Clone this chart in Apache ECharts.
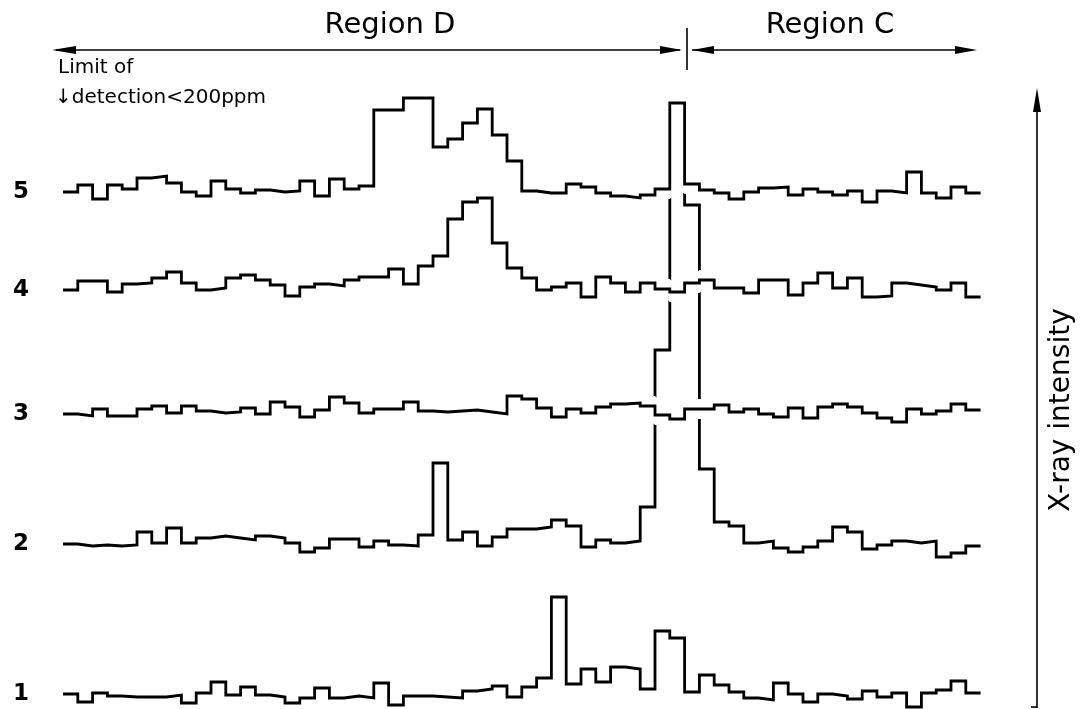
<!DOCTYPE html>
<html>
<head>
<meta charset="utf-8">
<script src="https://cdn.jsdelivr.net/npm/echarts@6/dist/echarts.min.js"></script>
<style>
  html, body { margin: 0; padding: 0; background: #fff; }
  #chart { width: 1089px; height: 709px; }
</style>
</head>
<body>
<div id="chart"></div>
<script>
// 62 scan steps along the line, intensity read per step (arbitrary units above each trace's own baseline)
const binCount = 62
const trace1 = [16, 8, 17, 14, 13, 13, 13, 15, 7, 17, 28, 15, 23, 15, 13, 7, 12, 22, 12, 14, 12, 27, 5, 14, 14, 13, 12, 19, 21, 24, 13, 23, 32, 113, 26, 41, 28, 43, 41, 21, 79, 72, 18, 35, 25, 18, 12, 10, 27, 16, 8, 16, 14, 11, 19, 13, 17, 3, 17, 20, 29, 17]
const trace2 = [16, 14, 15, 14, 15, 28, 17, 32, 17, 22, 24, 22, 20, 24, 22, 17, 8, 12, 21, 21, 13, 19, 15, 14, 25, 97, 20, 28, 14, 23, 31, 31, 33, 40, 34, 13, 20, 17, 19, 53, 210, 457, 355, 91, 38, 34, 17, 19, 12, 8, 13, 19, 33, 28, 11, 15, 19, 17, 19, 3, 7, 14]
const trace3 = [11, 9, 16, 9, 9, 16, 19, 12, 19, 14, 12, 13, 17, 11, 23, 18, 8, 15, 28, 22, 12, 16, 16, 23, 14, 13, 14, 15, 13, 11, 29, 26, 17, 8, 16, 12, 18, 21, 22, 19, 10, 6, 16, 16, 20, 13, 16, 11, 8, 17, 7, 18, 21, 18, 12, 7, 3, 16, 11, 14, 21, 15]
const trace4 = [10, 19, 19, 8, 16, 17, 22, 28, 17, 10, 12, 22, 25, 20, 15, 4, 13, 16, 14, 20, 23, 23, 31, 16, 34, 44, 81, 98, 102, 57, 32, 22, 10, 13, 17, 3, 23, 17, 8, 17, 11, 8, 17, 20, 12, 12, 7, 20, 20, 5, 17, 27, 12, 22, 3, 4, 17, 15, 13, 10, 17, 3]
const trace5 = [13, 20, 6, 20, 16, 27, 29, 22, 13, 9, 24, 16, 12, 15, 13, 14, 24, 9, 26, 16, 19, 95, 95, 107, 107, 58, 66, 82, 96, 70, 44, 14, 12, 12, 21, 18, 12, 9, 7, 10, 16, 102, 21, 15, 12, 6, 13, 17, 18, 10, 16, 13, 10, 14, 3, 14, 12, 33, 12, 7, 18, 12]
const traceNames = ['1', '2', '3', '4', '5']
const traceOffsets = [-1, 149, 284, 409, 504] // where each trace sits on the stacked intensity axis
const regionLabels = ['Region D', 'Region C']
const axisTitle = 'X-ray intensity'
const noteLines = ['Limit of', '\u2193detection<200ppm']

const traces = [trace1, trace2, trace3, trace4, trace5]

// histogram steps: one point per step edge, last value repeated at the end
const toSteps = (values, offset, name) => {
  const pts = values.map((v, i) => {
    const item = { value: [i, offset + v] }
    if (i === 0 && name) {
      item.label = {
        show: true,
        position: 'left',
        distance: 34,
        formatter: name,
        fontSize: 23,
        fontWeight: 'bold',
        fontFamily: 'DejaVu Sans',
        color: '#000'
      }
    }
    return item
  })
  pts.push({ value: [binCount, offset + values[values.length - 1]] })
  return pts
}

const series = []
traces.forEach((t, k) => {
  // white halo under the upper traces so the tall peak of trace 2 shows breaks where it crosses them
  if (k >= 2) {
    series.push({
      type: 'line',
      step: 'end',
      silent: true,
      clip: false,
      symbol: 'none',
      z: 3,
      lineStyle: { color: '#fff', width: 20 },
      data: toSteps(t, traceOffsets[k])
    })
  }
  series.push({
    name: traceNames[k],
    type: 'line',
    step: 'end',
    silent: true,
    clip: false,
    showSymbol: true,
    symbol: 'circle',
    symbolSize: 0,
    z: k >= 2 ? 4 : 2,
    lineStyle: { color: '#000', width: 2.8, join: 'miter' },
    data: toSteps(t, traceOffsets[k], traceNames[k])
  })
})

const txt = (text, x, y, size, extra) => Object.assign({
  type: 'text',
  x: x,
  y: y,
  style: {
    text: text,
    fill: '#000',
    font: size + 'px "DejaVu Sans"',
    textAlign: 'center',
    textVerticalAlign: 'middle'
  }
}, extra || {})
const ln = (x1, y1, x2, y2) => ({
  type: 'line',
  shape: { x1: x1, y1: y1, x2: x2, y2: y2 },
  style: { stroke: '#000', lineWidth: 1.6 }
})
const head = (pts) => ({ type: 'polygon', shape: { points: pts }, style: { fill: '#000' } })

const graphic = [
  txt(regionLabels[0], 390, 25, 29),
  txt(regionLabels[1], 830, 25, 29),
  ln(56, 50, 680, 50),
  head([[52, 50], [76, 46], [76, 54]]),
  head([[682, 50], [660, 46], [660, 54]]),
  ln(687, 28, 687, 70),
  ln(692, 50, 972, 50),
  head([[692, 50], [714, 46], [714, 54]]),
  head([[977, 50], [955, 46], [955, 54]]),
  ln(1037, 100, 1037, 708),
  ln(1031, 707, 1037, 707),
  head([[1037, 88], [1033, 112], [1041, 112]]),
  txt(axisTitle, 1062, 410, 28, { rotation: Math.PI / 2 }),
  {
    type: 'text',
    x: 58,
    y: 68,
    style: { text: noteLines[0], fill: '#000', font: '20px "DejaVu Sans"', textAlign: 'left', textVerticalAlign: 'middle' }
  },
  {
    type: 'text',
    x: 55,
    y: 98,
    style: { text: noteLines[1], fill: '#000', font: '20px "DejaVu Sans"', textAlign: 'left', textVerticalAlign: 'middle' }
  }
]

const chart = echarts.init(document.getElementById('chart'), null, { renderer: 'canvas' })
chart.setOption({
  animation: false,
  backgroundColor: '#fff',
  grid: { left: 63, right: 108.4, top: 0, bottom: 0 },
  xAxis: { type: 'value', min: 0, max: binCount, show: false },
  yAxis: { type: 'value', min: 0, max: 709, show: false },
  series: series,
  graphic: graphic
})
</script>
</body>
</html>
